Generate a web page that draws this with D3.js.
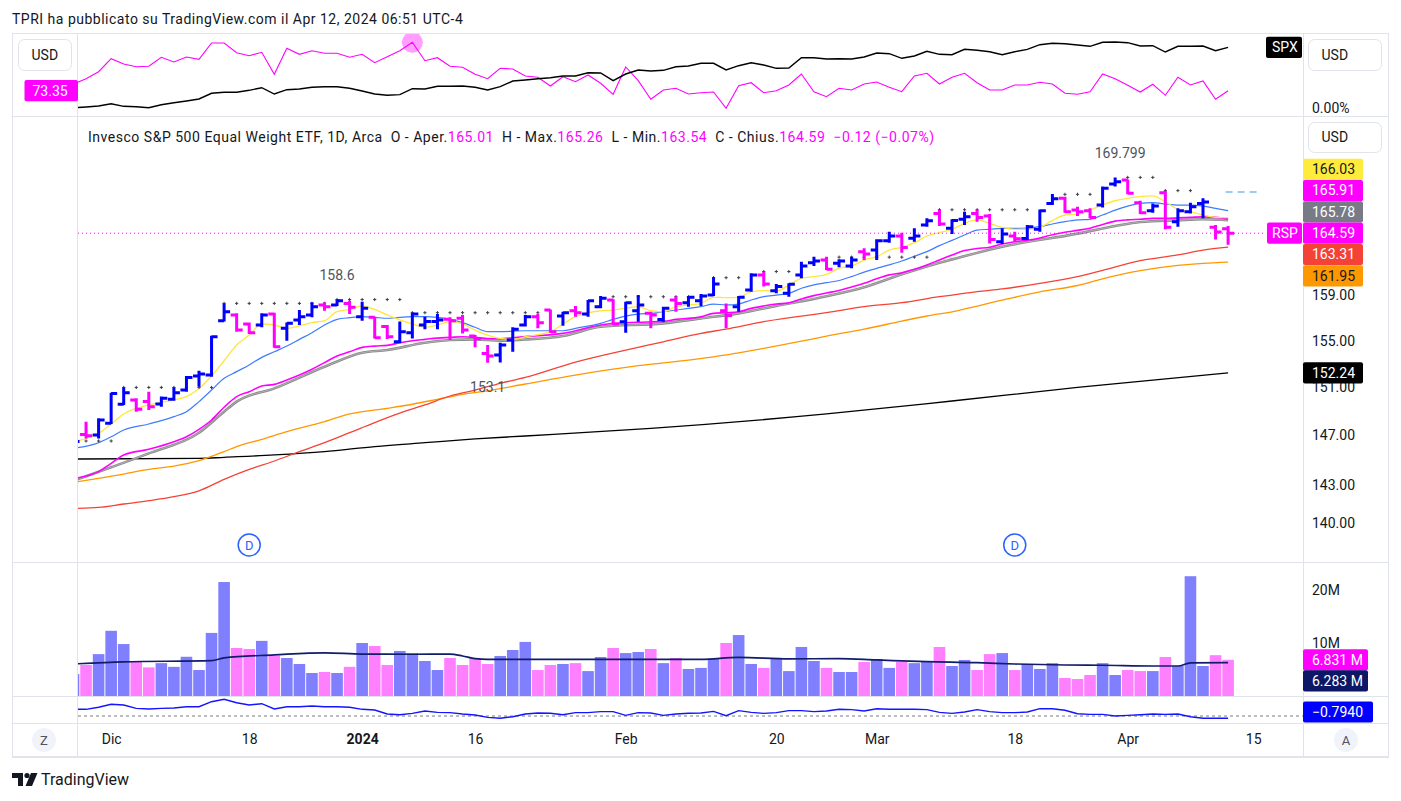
<!DOCTYPE html>
<html>
<head>
<meta charset="utf-8">
<script src="https://cdn.jsdelivr.net/npm/d3@7"></script>
<style>
body { margin: 0; background: #fff; }
text { font-family: Roboto, "Liberation Sans", sans-serif; }
</style>
</head>
<body>
<svg id="chart"></svg>
<script>
// RSP daily bars, Nov 28 2023 .. Apr 11 2024 (index 0..92)
const opens = [146.0,147.09,147.04,148.0,149.59,149.95,149.81,149.61,150.0,150.78,
  151.97,152.05,156.74,157.24,156.45,156.36,157.33,156.07,156.80,157.24,
  158.12,158.12,158.26,157.09,157.03,156.22,154.91,155.69,156.36,156.66,
  156.86,156.95,155.40,153.90,153.76,155.05,156.36,157.08,157.67,157.14,
  157.61,157.32,157.97,158.56,156.65,157.61,157.38,156.85,158.56,158.32,
  158.5,159.0,157.6,157.97,159.45,160.79,159.39,159.15,160.79,161.9,
  162.14,161.84,161.6,162.9,163.05,163.9,164.33,164.12,165.34,166.42,
  165.04,165.87,166.42,166.18,163.81,164.33,164.11,164.95,167.35,167.83,
  166.73,166.67,167.2,169.18,169.55,167.42,166.67,168.36,165.65,166.58,
  167.35,165.13,165.01];
const highs = [146.6,148.14,148.42,150.56,151.0,150.09,150.64,150.23,151.0,151.97,
  152.42,155.43,158.26,157.38,156.57,157.38,157.44,156.57,157.67,158.35,
  158.35,158.6,158.5,158.41,157.09,156.36,156.66,157.44,157.09,157.33,
  157.03,157.24,155.48,154.62,154.82,156.16,157.24,157.32,157.73,157.52,
  158.02,158.56,158.91,158.62,158.41,159.0,157.52,157.97,158.86,158.91,
  159.09,160.58,158.26,158.91,160.94,161.09,159.99,160.05,161.99,162.44,
  162.44,162.2,162.44,163.2,164.03,164.73,164.64,165.04,165.96,166.73,
  165.87,166.58,166.73,166.36,165.04,164.73,165.35,166.79,168.23,167.98,
  167.04,166.89,168.93,169.8,169.6,167.6,167.35,168.55,166.89,167.42,
  167.83,165.35,165.26];
const lows = [145.8,146.76,146.76,147.95,149.53,148.97,149.11,149.39,149.89,150.64,
  151.06,151.91,156.66,155.78,155.57,156.16,154.39,154.99,156.36,157.03,
  157.62,158.03,157.33,156.74,155.19,155.14,154.77,155.19,155.98,155.98,
  155.05,155.63,154.42,153.1,153.11,154.05,156.22,156.07,155.69,156.3,
  157.09,157.09,157.82,156.35,155.69,156.65,156.07,156.65,157.52,157.97,
  158.03,158.91,156.07,157.52,159.3,159.75,159.15,158.85,160.49,161.6,
  161.24,161.48,161.39,162.14,162.14,163.72,162.81,163.81,165.19,165.25,
  164.51,165.35,165.65,163.65,163.59,163.81,163.96,164.73,167.2,166.48,
  166.18,165.96,166.98,168.93,168.2,166.36,166.48,164.95,165.19,166.42,
  165.96,164.02,163.54];
const closes = [146.5,146.98,148.28,150.5,150.56,149.17,149.39,150.09,150.56,151.85,
  152.14,155.34,157.53,155.92,155.69,157.24,154.48,156.51,157.09,157.97,
  157.97,158.5,157.91,157.82,155.25,155.34,155.78,157.33,156.66,156.8,
  156.74,155.92,155.19,153.67,154.62,155.98,157.09,156.56,155.78,157.44,
  157.44,158.5,158.71,156.44,158.32,158.12,157.23,157.82,158.26,158.8,
  158.91,159.99,157.2,158.8,160.79,159.99,159.75,159.96,161.6,162.05,
  161.3,162.05,162.14,162.69,163.9,164.33,163.29,164.33,165.74,165.43,
  165.75,166.12,166.05,164.02,164.51,164.08,165.19,166.67,167.79,166.58,
  166.58,166.05,168.77,169.4,168.3,166.48,167.1,165.13,166.67,167.04,
  167.48,164.71,164.59];
// volume, millions
const volumes = [4.15,5.85,7.9,12.3,9.8,6.5,5.4,6.2,5.5,7.4,
  4.9,11.9,21.5,9.06,8.87,10.4,7.6,7.17,6.04,4.34,
  4.53,4.34,5.5,10.0,9.43,5.85,8.5,8.05,6.6,4.9,
  7.17,5.85,7.17,6.04,7.55,8.68,10.2,4.9,5.85,6.04,
  6.2,4.7,7.36,9.06,8.1,8.3,8.87,6.2,7.17,5.1,
  5.3,6.98,10.0,11.5,6.04,5.3,6.98,4.7,9.25,6.6,
  5.3,4.53,4.53,6.42,6.98,5.3,6.42,6.2,6.42,9.25,
  5.66,6.8,4.9,7.9,8.1,4.9,6.04,5.1,6.2,3.4,
  3.2,3.96,6.2,3.96,4.9,4.7,4.7,7.36,5.66,22.6,
  5.66,7.7,6.831];
const volMA = [[0,6.04],[4,6.45],[11,6.67],[12,7.2],[16,7.75],[20,8.15],[23,7.9],[27,7.88],[30,7.9],[31,7.55],[32,7.04],[33,6.9],[40,6.92],[50,6.92],[53,7.3],[57,7.0],[61,7.05],[64,6.8],[68,6.48],[72,6.3],[75,6.04],[79,5.85],[82,5.8],[86,5.66],[88,5.66],[89,6.25],[92,6.283]];

// moving averages: [bar index, price]
const yellowMA = [[0,146.49],[2,147.18],[3,147.95],[4,148.78],[6,149.53],[8,149.95],[9,150.23],[10,150.92],[11,151.97],[12,153.27],[13,154.62],[14,155.48],[15,156.45],[16,156.36],[17,156.07],[19,156.57],[20,156.74],[21,157.53],[22,157.73],[23,158.03],[24,157.73],[25,157.24],[26,156.80],[27,156.45],[28,156.16],[29,156.36],[30,156.66],[31,156.45],[32,155.92],[33,155.48],[34,155.19],[35,155.11],[36,155.34],[38,155.78],[40,157.09],[42,157.61],[43,157.67],[45,157.97],[46,157.61],[47,157.52],[48,157.97],[50,158.26],[51,158.80],[52,158.77],[53,158.80],[54,159.30],[55,159.39],[56,159.36],[57,159.89],[58,160.49],[59,160.64],[60,160.85],[61,161.39],[62,161.60],[63,162.14],[64,162.44],[65,163.05],[66,163.29],[67,163.72],[68,164.33],[69,164.64],[70,164.95],[71,165.50],[72,165.81],[73,165.50],[74,165.13],[75,164.95],[76,164.95],[77,165.13],[78,165.75],[79,166.27],[80,166.36],[81,166.73],[82,167.20],[83,167.60],[84,167.83],[86,168.05],[87,167.51],[88,166.79],[89,166.58],[90,166.27],[91,166.05],[92,166.03]];
const blueMA = [[0,145.95],[2,146.41],[3,146.90],[4,147.45],[6,147.95],[8,148.56],[9,148.97],[10,149.81],[11,150.78],[12,151.77],[13,152.34],[14,152.91],[15,153.56],[16,154.04],[17,154.53],[18,155.11],[19,155.69],[20,156.36],[21,156.86],[22,157.0],[23,157.09],[24,157.03],[25,156.95],[26,157.03],[27,157.09],[28,157.09],[29,157.03],[30,156.86],[31,156.57],[32,156.16],[33,155.78],[34,155.78],[36,155.86],[39,155.86],[40,156.07],[42,156.50],[43,156.85],[44,157.14],[45,157.32],[46,157.38],[47,157.52],[49,157.82],[50,157.97],[51,158.20],[52,158.12],[53,158.20],[54,158.56],[55,158.86],[56,159.0],[57,159.15],[58,159.6],[59,159.9],[60,160.1],[61,160.3],[62,160.65],[63,161.05],[64,161.38],[65,161.70],[66,162.05],[67,162.48],[68,162.90],[69,163.45],[70,163.93],[71,164.42],[72,164.88],[73,164.95],[74,165.04],[75,165.04],[76,165.07],[77,165.19],[78,165.44],[79,165.65],[80,165.81],[81,165.87],[82,166.27],[83,166.73],[84,167.10],[85,167.35],[86,167.42],[87,167.29],[88,167.20],[89,167.20],[90,167.10],[91,166.89],[92,166.67]];
const magentaMA = [[0,143.52],[2,144.06],[3,144.73],[4,145.41],[6,145.87],[8,146.49],[9,146.90],[10,147.51],[11,148.28],[12,149.34],[13,150.23],[14,150.64],[15,151.12],[16,151.26],[17,151.63],[18,152.05],[19,152.54],[20,153.11],[21,153.67],[22,154.04],[23,154.42],[24,154.53],[25,154.59],[26,154.82],[27,154.99],[28,155.11],[29,155.22],[30,155.28],[31,155.34],[32,155.28],[33,155.19],[34,155.17],[35,155.25],[36,155.35],[39,155.63],[42,156.36],[43,156.50],[45,156.6],[47,156.68],[48,156.85],[50,157.09],[51,157.38],[52,157.44],[53,157.52],[54,157.82],[55,158.03],[56,158.20],[57,158.32],[58,158.65],[59,158.95],[60,159.18],[61,159.40],[62,159.72],[63,160.05],[64,160.45],[65,160.80],[66,161.0],[67,161.3],[68,161.69],[69,162.15],[70,162.6],[71,163.0],[72,163.19],[73,163.3],[74,163.6],[75,163.8],[76,163.94],[77,164.15],[78,164.45],[79,164.68],[80,164.85],[81,165.05],[82,165.40],[83,165.70],[84,165.82],[85,165.87],[86,165.96],[87,165.96],[88,166.0],[89,166.05],[90,166.1],[91,166.05],[92,165.91]];
const grayMA = [[0,143.33],[3,144.41],[6,145.54],[10,147.23],[12,148.97],[13,149.81],[16,150.92],[20,152.76],[23,153.96],[25,154.19],[28,154.82],[30,155.05],[32,155.11],[34,155.0],[36,155.1],[39,155.40],[42,156.21],[47,156.50],[50,156.94],[53,157.38],[56,158.03],[60,158.9],[63,159.7],[66,160.85],[69,161.9],[70,162.2],[74,163.35],[80,164.55],[83,165.25],[85,165.62],[88,165.78],[90,165.87],[92,165.78]];
const redMA = [[0,141.13],[2,141.21],[4,141.48],[6,141.74],[8,142.06],[10,142.53],[12,143.44],[14,144.24],[16,144.92],[18,145.68],[20,146.41],[22,147.23],[24,148.06],[26,148.84],[28,149.53],[30,150.28],[32,150.78],[34,151.35],[36,151.85],[40,153.16],[44,154.19],[47,154.90],[50,155.63],[52,156.0],[55,156.65],[58,157.14],[60,157.45],[63,157.97],[66,158.32],[69,158.85],[70,159.0],[72,159.3],[74,159.55],[77,160.04],[80,160.64],[82,161.2],[85,162.08],[88,162.6],[90,163.04],[92,163.31]];
const orangeMA = [[0,143.20],[2,143.52],[4,143.87],[6,144.24],[8,144.51],[10,144.95],[12,145.68],[13,146.09],[15,146.68],[17,147.31],[20,148.14],[22,148.78],[25,149.25],[27,149.59],[29,150.0],[31,150.42],[33,150.72],[36,151.29],[40,152.05],[45,152.85],[49,153.33],[51,153.60],[53,153.95],[55,154.33],[58,154.95],[60,155.40],[63,156.0],[66,156.70],[68,157.15],[70,157.52],[74,158.55],[77,159.29],[80,159.85],[82,160.45],[85,161.18],[88,161.65],[90,161.84],[92,161.95]];
const blackMA = [[0,145.08],[10,145.13],[12,145.22],[16,145.41],[20,145.68],[24,146.09],[28,146.41],[32,146.72],[36,146.96],[46,147.59],[60,148.78],[70,149.86],[80,151.0],[92,152.24]];

// marker crosses: [from bar, to bar, price]
const crossRuns = [[1,3,146.55],[4,11,151.0],[12,20,158.26],[21,26,158.6],[27,37,157.44],[43,50,158.85],[51,53,160.55],[55,57,161.1],[61,68,162.4],[69,76,166.76],[79,81,168.2],[84,86,169.8],[87,89,168.55]];
const pivotLabels = [[21,'158.6',-1],[33,'153.1',1],[83,'169.799',-1]];
const dividendIdx = [14, 75];
const projection = [91.8, 94.4, 168.42];

// top pane: relative line (left scale) and SPX % (right scale)
const relVals = [76.0,78.15,80.95,86.15,84.03,82.95,83.11,86.71,84.83,86.83,
  85.91,92.43,92.43,88.55,87.35,88.71,79.91,90.31,87.91,89.35,
  88.31,88.31,86.71,87.91,84.55,86.95,89.35,92.71,85.35,86.55,
  83.11,82.71,79.91,78.15,82.31,82.03,79.23,78.71,75.23,78.95,
  76.95,79.63,76.31,71.91,82.83,77.35,69.91,73.63,74.31,72.03,
  72.55,72.83,66.31,75.35,76.55,72.55,73.35,75.63,80.03,72.95,
  70.95,74.31,73.63,76.03,76.83,74.71,72.95,79.23,80.31,76.03,
  78.71,80.31,76.55,73.63,73.63,75.63,75.63,76.71,76.03,72.31,
  71.91,72.95,80.03,78.15,75.51,72.83,75.91,71.51,78.71,75.63,
  77.23,69.91,73.35];
const spxPct = [0.00,0.17,0.40,0.95,0.33,0.24,0.00,0.71,1.19,1.60,
  2.07,3.43,3.67,3.67,4.14,4.76,3.26,4.29,4.45,4.86,
  5.00,5.00,4.62,3.98,3.26,2.95,3.10,4.52,4.45,5.10,
  5.10,5.17,4.86,4.21,5.00,6.36,6.60,6.90,7.14,7.55,
  7.55,8.33,8.26,6.43,8.02,8.98,8.74,8.90,9.76,9.93,
  10.57,10.57,8.98,10.00,10.71,10.17,9.38,9.45,11.90,11.90,
  11.60,11.67,11.60,12.07,13.02,12.86,11.76,12.31,13.43,12.71,
  12.62,13.90,13.67,13.33,12.62,13.33,13.90,15.00,15.33,15.24,
  14.93,14.62,15.57,15.64,15.48,14.69,14.76,13.26,14.62,14.62,
  14.69,13.57,14.38];
const relPeakIdx = 27;

// bottom oscillator
const oscVals = [-0.621,-0.621,-0.582,-0.525,-0.538,-0.602,-0.615,-0.602,-0.596,-0.571,
  -0.571,-0.475,-0.429,-0.494,-0.538,-0.513,-0.615,-0.571,-0.571,-0.558,
  -0.571,-0.571,-0.582,-0.621,-0.634,-0.711,-0.724,-0.698,-0.653,-0.679,
  -0.685,-0.711,-0.731,-0.775,-0.794,-0.763,-0.711,-0.692,-0.698,-0.724,
  -0.685,-0.685,-0.666,-0.666,-0.737,-0.685,-0.692,-0.737,-0.711,-0.698,
  -0.692,-0.66,-0.744,-0.647,-0.679,-0.698,-0.685,-0.647,-0.647,-0.666,
  -0.653,-0.621,-0.627,-0.653,-0.609,-0.621,-0.621,-0.621,-0.627,-0.679,
  -0.698,-0.672,-0.627,-0.666,-0.685,-0.685,-0.672,-0.609,-0.609,-0.640,
  -0.705,-0.718,-0.718,-0.750,-0.737,-0.724,-0.711,-0.718,-0.711,-0.763,
  -0.794,-0.794,-0.794];
const oscLevel = -0.75;

const priceTicks = [140, 143, 147, 151, 155, 159];
const volTicks = [10, 20];
const timeTickIdx = [3, 14, 23, 32, 44, 56, 64, 75, 84, 94];
const timeTickLabels = ['Dic', '18', '2024', '16', 'Feb', '20', 'Mar', '18', 'Apr', '15'];

const upColor = '#0000ff', downColor = '#ff00ff';
const ink = '#131722', lineGray = '#e0e3eb';

const svg = d3.select('#chart').attr('width', 1401).attr('height', 801);
svg.append('rect').attr('width', 1401).attr('height', 801).attr('fill', '#fff');

const x = d3.scaleLinear().domain([0, 92]).range([73.5, 1228.1]);
const yPrice = d3.scaleLog().domain([136.97, 175.53]).range([562, 118]);
const yVol = d3.scaleLinear().domain([0, 25.09]).range([696, 563]);
const yRel = d3.scaleLinear().domain([62.83, 94.83]).range([117, 37]);
const ySpx = d3.scaleLinear().domain([-2.214, 16.833]).range([117, 37]);
const yOsc = d3.scaleLinear().domain([-0.884, -0.365]).range([723, 696]);

const defs = svg.append('defs');
function clip(id, y0, y1) {
	defs.append('clipPath').attr('id', id).append('rect')
		.attr('x', 78).attr('y', y0).attr('width', 1225).attr('height', y1 - y0);
	return `url(#${id})`;
}

// title
svg.append('text').attr('x', 12).attr('y', 24).attr('font-size', '14px').attr('letter-spacing', '0.5px').attr('fill', ink)
	.text('TPRI ha pubblicato su TradingView.com il Apr 12, 2024 06:51 UTC-4');

// frame
const frame = svg.append('g').attr('stroke', lineGray).attr('fill', 'none');
frame.append('rect').attr('x', 12.5).attr('y', 33.5).attr('width', 1376).attr('height', 723);
[116.5, 562.5, 696.5, 723.5].forEach(y => frame.append('line').attr('x1', 12.5).attr('x2', 1388.5).attr('y1', y).attr('y2', y));
[77.5, 1303.5].forEach(xx => frame.append('line').attr('x1', xx).attr('x2', xx).attr('y1', 33.5).attr('y2', 756.5));
frame.append('line').attr('x1', 12).attr('x2', 1389).attr('y1', 757).attr('y2', 757).attr('stroke-width', 2);

// ---------- top pane ----------
const gTop = svg.append('g').attr('clip-path', clip('clipTop', 34, 116));
gTop.append('circle').attr('cx', x(relPeakIdx)).attr('cy', yRel(relVals[relPeakIdx])).attr('r', 10.5)
	.attr('fill', '#ff00ff').attr('opacity', 0.38);
gTop.append('path').datum(relVals).attr('fill', 'none').attr('stroke', '#f0f').attr('stroke-width', 1.1)
	.attr('d', d3.line().x((d, i) => x(i)).y(d => yRel(d)));
gTop.append('path').datum(spxPct).attr('fill', 'none').attr('stroke', '#000').attr('stroke-width', 1.4)
	.attr('d', d3.line().x((d, i) => x(i)).y(d => ySpx(d)));

// ---------- price pane ----------
const gPrice = svg.append('g').attr('clip-path', clip('clipPrice', 117, 562));
function maLine(pts, color, width) {
	gPrice.append('path').datum(pts).attr('fill', 'none').attr('stroke', color).attr('stroke-width', width)
		.attr('d', d3.line().x(d => x(d[0])).y(d => yPrice(d[1])).curve(d3.curveMonotoneX));
}
maLine(blackMA, '#000', 1.3);
maLine(orangeMA, '#ff9800', 1.3);
maLine(redMA, '#f44336', 1.3);
maLine(grayMA, '#8a8a8a', 2.6);
maLine(grayMA, '#b0b0b0', 1);
maLine(magentaMA, '#ff00ff', 1.6);
maLine(blueMA, '#3f7cff', 1.2);
maLine(yellowMA, '#ffe63b', 1.3);

const last = closes.length - 1;
gPrice.append('line').attr('x1', 78).attr('x2', 1266).attr('y1', yPrice(closes[last])).attr('y2', yPrice(closes[last]))
	.attr('stroke', '#ff00ff').attr('stroke-dasharray', '1,3');
gPrice.append('line').attr('x1', x(projection[0])).attr('x2', x(projection[1]))
	.attr('y1', yPrice(projection[2])).attr('y2', yPrice(projection[2]))
	.attr('stroke', '#9ccbf5').attr('stroke-width', 2).attr('stroke-dasharray', '7,5');

// crosses
const crosses = [];
crossRuns.forEach(r => { for (let i = r[0]; i <= r[1]; i++) crosses.push([i, r[2]]); });
gPrice.selectAll('.cross').data(crosses).join('path').attr('class', 'cross')
	.attr('d', d => `M${x(d[0]) - 1.6},${yPrice(d[1])}H${x(d[0]) + 1.6}M${x(d[0])},${yPrice(d[1]) - 1.6}V${yPrice(d[1]) + 1.6}`)
	.attr('stroke', '#3c3f48').attr('stroke-width', 1);

// OHLC bars
const bars = d3.range(closes.length).map(i => ({i: i, o: opens[i], h: highs[i], l: lows[i], c: closes[i]}));
gPrice.selectAll('.bar').data(bars).join('path').attr('class', 'bar')
	.attr('d', d => `M${x(d.i)},${yPrice(d.h)}V${yPrice(d.l)}M${x(d.i) - 6},${yPrice(d.o)}H${x(d.i)}M${x(d.i)},${yPrice(d.c)}H${x(d.i) + 6}`)
	.attr('stroke', d => d.c >= d.o ? upColor : downColor).attr('stroke-width', 3).attr('fill', 'none');

// pivot labels
pivotLabels.forEach(p => {
	const base = p[2] < 0 ? yPrice(highs[p[0]]) : yPrice(lows[p[0]]);
	gPrice.append('text').attr('x', x(p[0]) + (p[1].length > 5 ? 5 : 0)).attr('y', base + p[2] * 24).attr('dy', '0.35em')
		.attr('text-anchor', 'middle').attr('font-size', '14px').attr('fill', '#50535e').text(p[1]);
});

// dividend markers
dividendIdx.forEach(i => {
	svg.append('circle').attr('cx', x(i)).attr('cy', 545).attr('r', 11).attr('fill', '#fff')
		.attr('stroke', '#2962ff').attr('stroke-width', 1.5);
	svg.append('text').attr('x', x(i)).attr('y', 545).attr('dy', '0.36em').attr('text-anchor', 'middle')
		.attr('font-size', '13px').attr('fill', '#2962ff').text('D');
});

// legend
const fmt = d3.format('.2f');
const chg = closes[last] - closes[last - 1];
const legendParts = [
	['Invesco S&P 500 Equal Weight ETF, 1D, Arca  O - Aper.', ink], [fmt(opens[last]), '#ff00ff'],
	['  H - Max.', ink], [fmt(highs[last]), '#ff00ff'],
	['  L - Min.', ink], [fmt(lows[last]), '#ff00ff'],
	['  C - Chius.', ink], [fmt(closes[last]), '#ff00ff'],
	['  ' + d3.format('.2f')(chg) + ' (' + d3.format('.2f')(chg / closes[last - 1] * 100) + '%)', '#ff00ff']
];
const legend = svg.append('text').attr('x', 88).attr('y', 142).attr('font-size', '14px')
	.attr('letter-spacing', '0.52px').attr('style', 'white-space:pre');
legendParts.forEach(p => legend.append('tspan').attr('fill', p[1]).text(p[0]));

// ---------- volume pane ----------
const gVol = svg.append('g').attr('clip-path', clip('clipVol', 563, 696));
gVol.selectAll('rect').data(volumes).join('rect')
	.attr('x', (d, i) => x(i) - 5.8).attr('width', 11.6)
	.attr('y', d => yVol(d)).attr('height', d => 696 - yVol(d))
	.attr('fill', (d, i) => closes[i] >= opens[i] ? '#8080ff' : '#ff80ff');
gVol.append('path').datum(volMA).attr('fill', 'none').attr('stroke', '#111d6b').attr('stroke-width', 1.7)
	.attr('d', d3.line().x(d => x(d[0])).y(d => yVol(d[1])).curve(d3.curveMonotoneX));

// ---------- oscillator pane ----------
const gOsc = svg.append('g').attr('clip-path', clip('clipOsc', 697, 723));
gOsc.append('line').attr('x1', 78).attr('x2', 1303).attr('y1', yOsc(oscLevel)).attr('y2', yOsc(oscLevel))
	.attr('stroke', '#787b86').attr('stroke-dasharray', '3,3');
gOsc.append('path').datum(oscVals).attr('fill', 'none').attr('stroke', '#1414ff').attr('stroke-width', 1.4)
	.attr('d', d3.line().x((d, i) => x(i)).y(d => yOsc(d)));

// ---------- axes ----------
function styleAxis(g) {
	g.select('.domain').remove();
	g.attr('font-family', 'Roboto, "Liberation Sans", sans-serif').attr('font-size', 14).attr('color', ink);
}
svg.append('g').attr('transform', 'translate(1303,0)')
	.call(d3.axisRight(yPrice).tickValues(priceTicks).tickFormat(fmt).tickSize(0).tickPadding(9)).call(styleAxis);
svg.append('g').attr('transform', 'translate(1303,0)')
	.call(d3.axisRight(yVol).tickValues(volTicks).tickFormat(d => d + 'M').tickSize(0).tickPadding(9)).call(styleAxis);
svg.append('g').attr('transform', 'translate(1303,0)')
	.call(d3.axisRight(ySpx).tickValues([0]).tickFormat(d => fmt(d) + '%').tickSize(0).tickPadding(9)).call(styleAxis);
const xAxis = svg.append('g').attr('transform', 'translate(0,723)')
	.call(d3.axisBottom(x).tickValues(timeTickIdx).tickFormat((d, k) => timeTickLabels[k]).tickSize(0).tickPadding(11))
	.call(styleAxis);
xAxis.selectAll('text').attr('font-weight', d => timeTickLabels[timeTickIdx.indexOf(d)] === '2024' ? 'bold' : null);

// ---------- value tags ----------
function tag(tx, cy, w, bg, fg, txt, pad) {
	svg.append('rect').attr('x', tx).attr('y', cy - 10.6).attr('width', w).attr('height', 21.2).attr('rx', 2).attr('fill', bg);
	svg.append('text').attr('x', tx + (pad || 9)).attr('y', cy).attr('dy', '0.35em')
		.attr('font-size', '14px').attr('fill', fg).text(txt);
}
function usdBox(bx, by, w, h) {
	svg.append('rect').attr('x', bx).attr('y', by).attr('width', w).attr('height', h).attr('rx', 6)
		.attr('fill', '#fff').attr('stroke', lineGray);
	svg.append('text').attr('x', bx + 13).attr('y', by + h / 2).attr('dy', '0.35em')
		.attr('font-size', '14px').attr('fill', ink).text('USD');
}
usdBox(18.5, 39.5, 53, 31);
usdBox(1308.5, 39.5, 73, 31);
usdBox(1308.5, 122.5, 73, 30);

const closeY = yPrice(closes[last]);
const stackUp = [[yellowMA, '#ffeb3b', ink], [magentaMA, '#ff00ff', '#fff'], [grayMA, '#787b86', '#fff']];
stackUp.forEach((s, k) => {
	const v = s[0][s[0].length - 1][1];
	tag(1303, closeY - 21.3 * (stackUp.length - k), 60, s[1], s[2], fmt(v));
});
tag(1303, closeY, 60, '#ff00ff', '#fff', fmt(closes[last]));
tag(1267, closeY, 35, '#ff00ff', '#fff', 'RSP', 5);
const stackDown = [[redMA, '#f44336', '#fff'], [orangeMA, '#ff9800', ink]];
stackDown.forEach((s, k) => {
	const v = s[0][s[0].length - 1][1];
	tag(1303, closeY + 21.3 * (k + 1), 60, s[1], s[2], fmt(v));
});
tag(1303, yPrice(blackMA[blackMA.length - 1][1]), 60, '#000', '#fff', fmt(blackMA[blackMA.length - 1][1]));

const vY = yVol(volumes[last]);
tag(1303, vY, 65, '#ff00ff', '#fff', d3.format('.3f')(volumes[last]) + ' M');
tag(1303, vY + 21, 65, '#0c1766', '#fff', d3.format('.3f')(volMA[volMA.length - 1][1]) + ' M');
tag(1303, Math.min(yOsc(oscVals[last]), 712), 70, '#0000ff', '#fff', d3.format('.4f')(oscVals[last]));

tag(1266, ySpx(spxPct[last]), 36, '#000', '#fff', 'SPX', 6);
tag(24.5, yRel(relVals[last]), 53.5, '#ff00ff', '#fff', fmt(relVals[last]), 8);

// corner buttons
[[44, 'Z'], [1346, 'A']].forEach(b => {
	svg.append('circle').attr('cx', b[0]).attr('cy', 740).attr('r', 12).attr('fill', '#f0f3fa');
	svg.append('text').attr('x', b[0]).attr('y', 740).attr('dy', '0.35em').attr('text-anchor', 'middle')
		.attr('font-size', '13px').attr('fill', '#50535e').text(b[1]);
});

// logo
const logo = svg.append('g').attr('fill', ink);
logo.append('path').attr('d', 'M12,773H23V786H18V778H12Z');
logo.append('circle').attr('cx', 27).attr('cy', 775.5).attr('r', 2.6);
logo.append('path').attr('d', 'M31,773H37.5L32,786H25.5Z');
svg.append('text').attr('x', 41).attr('y', 785).attr('font-size', '16px').attr('fill', ink).text('TradingView');
</script>
</body>
</html>
